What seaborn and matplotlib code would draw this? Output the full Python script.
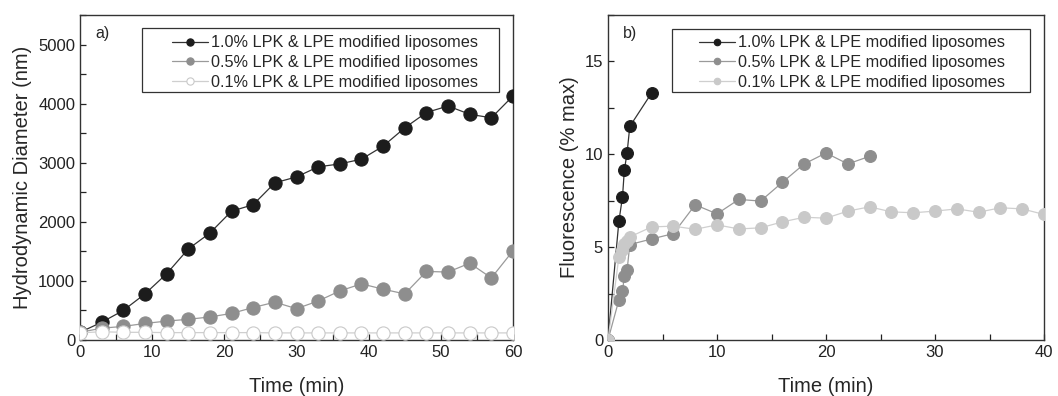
import matplotlib
matplotlib.use("Agg")
import matplotlib.pyplot as plt
import seaborn as sns
import numpy as np
import pandas as pd
from matplotlib.ticker import MultipleLocator
from matplotlib.patches import Rectangle

# ---------------- data ----------------
labels = ["1.0% LPK & LPE modified liposomes",
          "0.5% LPK & LPE modified liposomes",
          "0.1% LPK & LPE modified liposomes"]

time_a = [0, 3, 6, 9, 12, 15, 18, 21, 24, 27, 30, 33, 36, 39, 42, 45, 48, 51, 54, 57, 60]
diam_10 = [130, 300, 500, 780, 1120, 1540, 1810, 2180, 2290, 2660, 2760, 2930, 2980, 3060,
           3280, 3590, 3850, 3960, 3820, 3760, 4130]
diam_05 = [130, 200, 230, 280, 320, 350, 390, 450, 550, 640, 530, 660, 830, 950, 860, 780,
           1160, 1150, 1300, 1050, 1510]
diam_01 = [120, 140, 130, 130, 125, 125, 125, 125, 125, 120, 120, 120, 120, 120, 120, 120,
           120, 120, 120, 120, 120]

time_b10 = [0, 1.0, 1.33, 1.5, 1.75, 2.0, 4.0]
fluo_10 = [0, 6.4, 7.7, 9.15, 10.07, 11.5, 13.3]
time_b05 = [0, 1.0, 1.33, 1.5, 1.75, 2.0, 4, 6, 8, 10, 12, 14, 16, 18, 20, 22, 24]
fluo_05 = [0, 2.16, 2.65, 3.42, 3.75, 5.14, 5.44, 5.73, 7.28, 6.79, 7.57, 7.48, 8.49, 9.48,
           10.07, 9.48, 9.89]
time_b01 = [0, 1.0, 1.33, 1.5, 1.75, 2.0, 4, 6, 8, 10, 12, 14, 16, 18, 20, 22, 24, 26, 28,
            30, 32, 34, 36, 38, 40]
fluo_01 = [0, 4.47, 4.86, 5.19, 5.35, 5.55, 6.09, 6.13, 5.96, 6.2, 5.98, 6.04, 6.36, 6.61,
           6.56, 6.94, 7.17, 6.9, 6.85, 6.94, 7.06, 6.88, 7.12, 7.06, 6.76]

# ---------------- style ----------------
sns.set_theme(style="ticks")
plt.rcParams["font.family"] = ["Liberation Sans", "DejaVu Sans"]
plt.rcParams["axes.edgecolor"] = "#333333"
plt.rcParams["axes.linewidth"] = 1.0

c_black = "#1c1c1c"
c_gray = "#8e8e8e"
c_light = "#c9c9c9"
l_black = "#333333"
l_gray = "#9a9a9a"
l_light = "#cfcfcf"

fig = plt.figure(figsize=(10.58, 3.96), dpi=100)
axA = fig.add_axes([80 / 1058, 1 - 340 / 396, 433 / 1058, 325 / 396])
axB = fig.add_axes([608 / 1058, 1 - 340 / 396, 436 / 1058, 325 / 396])


def draw(ax, x, y, label, line_c, face_c, edge_c, ms):
    sns.lineplot(x=x, y=y, ax=ax, label=label, color=line_c, marker="o",
                 markersize=ms, markerfacecolor=face_c, markeredgecolor=edge_c,
                 markeredgewidth=0.8, linewidth=0.9, sort=False, zorder=3)


# panel a
draw(axA, time_a, diam_10, labels[0], l_black, c_black, c_black, 9.5)
draw(axA, time_a, diam_05, labels[1], l_gray, c_gray, c_gray, 9.5)
draw(axA, time_a, diam_01, labels[2], l_light, "white", c_light, 9.5)

# panel b
draw(axB, time_b10, fluo_10, labels[0], l_black, c_black, c_black, 8.5)
draw(axB, time_b05, fluo_05, labels[1], l_gray, c_gray, c_gray, 8.5)
draw(axB, time_b01, fluo_01, labels[2], l_light, c_light, c_light, 8.5)

axA.set_xlim(0, 60)
axA.set_ylim(0, 5500)
axA.xaxis.set_major_locator(MultipleLocator(10))
axA.xaxis.set_minor_locator(MultipleLocator(5))
axA.yaxis.set_major_locator(MultipleLocator(1000))
axA.yaxis.set_minor_locator(MultipleLocator(500))
axA.set_xlabel("Time (min)", fontsize=14.5, labelpad=12)
axA.set_ylabel("Hydrodynamic Diameter (nm)", fontsize=14.5)
axA.text(0.035, 0.965, "a)", transform=axA.transAxes, fontsize=11.5, va="top", ha="left")

axB.set_xlim(0, 40)
axB.set_ylim(0, 17.5)
axB.xaxis.set_major_locator(MultipleLocator(10))
axB.xaxis.set_minor_locator(MultipleLocator(5))
axB.yaxis.set_major_locator(MultipleLocator(5))
axB.yaxis.set_minor_locator(MultipleLocator(2.5))
axB.set_xlabel("Time (min)", fontsize=14.5, labelpad=12)
axB.set_ylabel("Fluorescence (% max)", fontsize=14.5)
axB.text(0.035, 0.965, "b)", transform=axB.transAxes, fontsize=11.5, va="top", ha="left")

# legend frame boxes (axes fractions) and legend anchors
frames = {axA: (0.143, 0.763, 0.968 - 0.143, 0.96 - 0.763),
          axB: (0.147, 0.763, 0.968 - 0.147, 0.957 - 0.763)}
anchors = {axA: (0.213, 0.937), axB: (0.209, 0.937)}

for ax in (axA, axB):
    for s in ax.spines.values():
        s.set_visible(True)
        s.set_color("#333333")
    ax.tick_params(axis="both", which="both", direction="in", top=False, right=False,
                   labelsize=12, colors="#222222")
    ax.tick_params(which="major", length=4, width=0.9)
    ax.tick_params(which="minor", length=4, width=0.9)
    fx, fy, fw, fh = frames[ax]
    ax.add_patch(Rectangle((fx, fy), fw, fh, transform=ax.transAxes, facecolor="white",
                           edgecolor="#333333", linewidth=0.9, zorder=4))
    leg = ax.legend(loc="upper left", bbox_to_anchor=anchors[ax], borderaxespad=0,
                    fontsize=11.7, frameon=False, handlelength=2.2,
                    handletextpad=0.2, labelspacing=0.28, borderpad=0,
                    markerscale=0.55)
    leg.set_zorder(5)

fig.savefig("out.png", dpi=100)
